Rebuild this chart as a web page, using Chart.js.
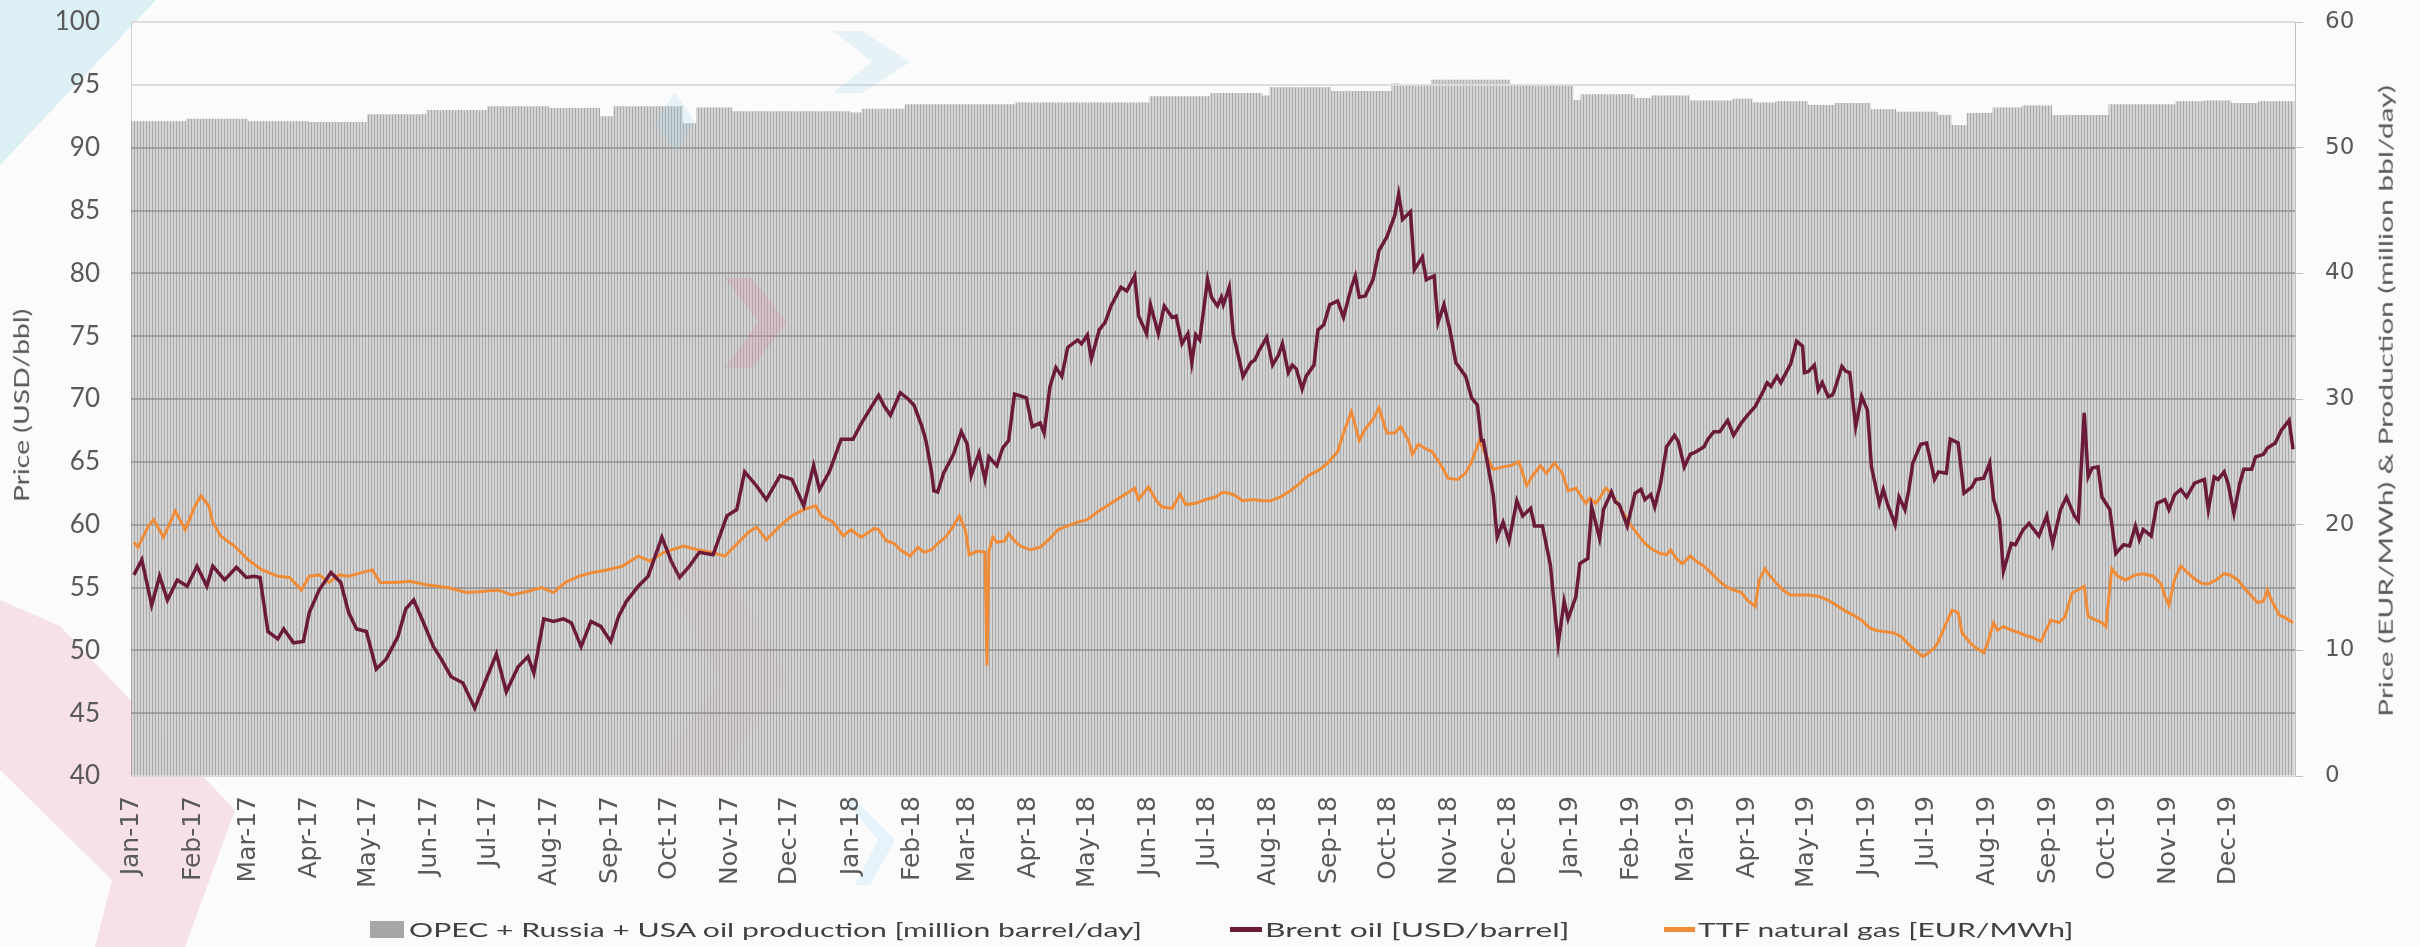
<!DOCTYPE html>
<html>
<head>
<meta charset="utf-8">
<script src="https://cdn.jsdelivr.net/npm/chart.js@4.4.1/dist/chart.umd.min.js"></script>
<style>
html,body{margin:0;padding:0;background:#fbfbfb;}
#wrap{position:relative;width:2420px;height:947px;overflow:hidden;}
canvas{display:block;}
.vt{position:absolute;white-space:nowrap;font-family:Lato,sans-serif;color:#595959;line-height:1;}
.lg{position:absolute;white-space:nowrap;font-family:Lato,sans-serif;font-size:19px;color:#404040;line-height:1;transform-origin:0 50%;}
.mk{position:absolute;}
</style>
</head>
<body>
<div id="wrap">
<canvas id="c" width="2420" height="947"></canvas>
<div class="vt" id="ltitle" data-cx="20" data-cy="405" data-len="193" style="font-size:21px">Price (USD/bbl)</div>
<div class="vt" id="rtitle" data-cx="2384" data-cy="401" data-len="631" style="font-size:20px">Price (EUR/MWh) &amp; Production (million bbl/day)</div>
<div id="legend"></div>
</div>
<script>
// ---------- categories / tick labels ----------
const monthLabels = ['Jan-17','Feb-17','Mar-17','Apr-17','May-17','Jun-17','Jul-17','Aug-17','Sep-17','Oct-17','Nov-17','Dec-17',
  'Jan-18','Feb-18','Mar-18','Apr-18','May-18','Jun-18','Jul-18','Aug-18','Sep-18','Oct-18','Nov-18','Dec-18',
  'Jan-19','Feb-19','Mar-19','Apr-19','May-19','Jun-19','Jul-19','Aug-19','Sep-19','Oct-19','Nov-19','Dec-19'];
const seriesNames = ['OPEC + Russia + USA oil production [million barrel/day]', 'Brent oil [USD/barrel]', 'TTF natural gas [EUR/MWh]'];

// ---------- Brent oil [USD/barrel] : day (since 1 Jan 2017), value ----------
const brentDay = [1,5,10,14,18,23,28,33,38,41,47,53,58,62,65,69,74,77,82,87,90,95,101,106,110,114,119,124,129,135,139,143,148,153,157,162,168,174,179,185,190,196,201,204,209,214,219,223,228,233,238,243,247,251,257,262,269,274,278,283,288,295,302,307,311,317,322,329,335,341,346,349,354,360,366,
370,375,379,382,385,390,394,397,401,403,406,407,409,412,417,421,424,426,430,433,435,439,442,445,448,454,457,461,463,466,469,472,475,480,482,485,487,491,494,497,502,505,509,511,515,517,521,524,528,530,533,536,538,540,542,546,548,551,553,554,557,559,564,568,570,572,576,579,582,584,587,589,591,594,596,600,602,605,608,612,615,619,621,623,626,630,633,637,641,643,645,649,651,655,657,661,663,666,669,672,677,680,683,685,686,689,691,693,696,699,703,706,710,712,716,720,722,724,727,729,
733,735,739,741,745,747,751,753,755,759,763,766,768,771,773,776,779,783,785,788,791,794,798,800,803,806,810,813,817,820,824,828,830,832,835,837,839,842,845,848,849,851,854,856,858,861,863,864,868,870,872,875,878,881,883,887,889,891,895,897,900,902,904,908,911,915,917,921,923,927,930,934,936,940,943,945,948,950,954,956,960,963,968,972,975,979,982,986,988,991,993,995,998,1000,1004,1007,1011,1014,1017,1019,1021,1025,1028,1032,1034,1037,1040,1043,1047,1052,1054,1057,1059,1062,1064,1067,1070,1072,1076,1078,1082,1084,1088,1091,1095,1097];
const brentPrice = [56.0,57.2,53.6,55.9,54.0,55.6,55.1,56.7,55.1,56.7,55.6,56.6,55.8,55.9,55.8,51.5,50.9,51.7,50.6,50.7,53.0,54.8,56.2,55.4,53.0,51.7,51.5,48.5,49.3,51.1,53.3,54.0,52.2,50.3,49.3,47.9,47.4,45.4,47.4,49.7,46.7,48.7,49.5,48.2,52.5,52.3,52.5,52.2,50.3,52.3,51.9,50.7,52.7,53.9,55.1,55.9,59.0,57.0,55.8,56.7,57.8,57.6,60.7,61.2,64.2,63.1,62.0,63.9,63.6,61.5,64.7,62.8,64.2,66.8,66.8,
68.0,69.3,70.3,69.4,68.7,70.5,70.0,69.5,67.8,66.7,64.1,62.7,62.6,64.1,65.6,67.4,66.4,63.9,65.7,63.6,65.4,64.7,66.1,66.7,70.4,70.1,67.8,68.1,67.3,71.0,72.5,71.8,74.1,74.7,74.4,75.1,73.2,75.5,76.1,77.4,78.9,78.6,79.8,76.6,75.2,77.5,75.2,77.4,76.5,76.6,74.4,75.2,72.9,75.1,74.7,79.5,78.1,77.4,78.1,77.5,78.9,75.2,71.8,72.9,73.1,73.8,74.9,72.7,73.5,74.4,72.1,72.7,72.4,70.8,71.8,72.7,75.5,75.9,77.5,77.8,76.5,78.9,79.8,78.1,78.2,79.5,81.8,82.9,84.6,86.3,84.3,84.9,80.3,81.3,79.5,79.8,76.1,77.5,75.5,72.9,71.8,70.1,69.5,66.7,66.7,64.1,62.4,59.0,60.2,58.7,61.9,60.7,61.3,59.9,59.9,56.8,53.6,50.5,53.9,52.5,
54.3,56.9,57.3,61.4,58.9,61.2,62.6,61.8,61.6,59.9,62.5,62.8,62.0,62.4,61.4,63.3,66.2,67.1,66.6,64.6,65.6,65.8,66.2,66.8,67.4,67.4,68.3,67.1,68.1,68.7,69.4,70.6,71.3,71.0,71.8,71.3,71.9,72.8,74.6,74.2,72.1,72.2,72.7,70.7,71.3,70.2,70.3,70.6,72.6,72.2,72.1,67.8,70.2,69.1,64.6,61.7,62.8,61.7,60.0,62.2,61.2,62.8,64.9,66.4,66.5,63.6,64.2,64.1,66.8,66.5,62.5,63.0,63.6,63.7,64.9,62.0,60.4,56.3,58.5,58.4,59.6,60.1,59.1,60.7,58.5,61.2,62.2,60.7,60.3,68.9,63.8,64.5,64.6,62.2,61.2,57.7,58.4,58.3,59.9,58.8,59.6,59.1,61.7,62.0,61.2,62.4,62.8,62.2,63.3,63.6,61.2,63.8,63.6,64.2,63.3,60.9,63.3,64.4,64.4,65.4,65.6,66.1,66.5,67.5,68.3,66.0];

// ---------- TTF natural gas [EUR/MWh] ----------
const ttfDay = [1,3,8,11,16,22,27,32,35,39,41,45,52,59,66,74,80,86,90,95,100,105,110,117,122,126,134,141,150,160,170,179,186,193,201,208,214,220,227,234,241,249,257,263,270,280,287,294,301,306,313,317,322,329,335,341,347,350,356,361,
365,370,373,377,379,383,387,390,395,399,402,406,409,413,417,420,423,425,429,433,434,435,437,439,443,445,448,451,456,461,466,470,475,480,485,490,494,499,504,509,511,516,520,523,528,532,535,540,545,550,554,559,564,569,574,578,583,588,593,597,602,607,612,615,619,623,626,630,633,637,641,644,648,650,653,656,660,665,668,673,677,680,684,687,691,696,700,704,708,711,715,718,722,726,729,
733,735,738,740,743,745,748,751,754,758,761,765,768,772,776,779,781,784,787,791,794,798,802,805,809,813,817,820,824,826,829,831,835,838,842,846,851,856,861,865,870,875,878,882,885,889,894,898,903,906,909,912,915,917,921,924,927,929,933,936,940,942,945,947,950,954,958,961,965,969,974,978,981,985,988,991,993,997,1000,1002,1005,1008,1012,1017,1021,1026,1030,1032,1034,1037,1040,1044,1047,1051,1054,1058,1062,1065,1069,1072,1076,1079,1082,1084,1086,1090,1093,1097];
const ttfPrice = [18.6,18.2,19.8,20.4,19.0,21.1,19.6,21.5,22.3,21.5,20.2,19.1,18.3,17.2,16.4,15.9,15.8,14.8,15.9,16.0,15.4,16.0,15.9,16.2,16.4,15.4,15.4,15.5,15.2,15.0,14.6,14.7,14.8,14.4,14.7,15.0,14.6,15.4,15.9,16.2,16.4,16.7,17.5,17.1,17.8,18.3,18.0,17.8,17.5,18.3,19.4,19.8,18.8,19.9,20.7,21.2,21.5,20.7,20.2,19.1,
19.6,19.0,19.3,19.7,19.6,18.7,18.5,18.0,17.5,18.2,17.8,18.0,18.5,19.0,19.9,20.7,19.6,17.6,17.9,17.8,8.8,17.9,19.0,18.6,18.7,19.3,18.7,18.3,18.0,18.2,18.9,19.6,19.9,20.2,20.4,21.0,21.4,21.9,22.4,22.9,22.0,23.0,21.9,21.4,21.3,22.4,21.6,21.7,22.0,22.2,22.6,22.4,21.9,22.0,21.9,21.9,22.2,22.7,23.3,23.9,24.3,24.9,25.8,27.3,29.0,26.7,27.6,28.4,29.3,27.3,27.3,27.8,26.7,25.6,26.4,26.1,25.8,24.6,23.7,23.6,24.1,25.0,26.7,25.6,24.4,24.6,24.7,25.0,23.1,23.9,24.7,24.1,24.9,24.1,22.7,
22.9,22.4,21.7,22.1,21.7,22.1,22.9,22.5,21.7,20.7,19.9,19.1,18.5,18.0,17.7,17.6,18.0,17.3,16.9,17.5,17.1,16.7,16.1,15.6,15.1,14.8,14.6,14.0,13.5,15.6,16.5,16.0,15.3,14.8,14.4,14.4,14.4,14.3,14.0,13.6,13.1,12.7,12.4,11.8,11.6,11.5,11.4,11.1,10.3,9.9,9.5,9.8,10.2,10.7,12.2,13.2,13.0,11.4,10.6,10.2,9.8,10.6,12.2,11.6,11.9,11.6,11.4,11.2,11.0,10.7,12.4,12.2,12.6,14.6,14.8,15.1,12.7,12.4,12.2,11.9,16.5,15.9,15.6,16.0,16.1,15.9,15.3,14.3,13.6,15.7,16.7,16.1,15.7,15.3,15.3,15.6,16.1,16.0,15.6,15.0,14.3,13.8,13.9,14.8,14.0,12.8,12.6,12.2];

// ---------- OPEC + Russia + USA oil production [million barrel/day] : level from start day ----------
const prodStartDay = [0,28,59,90,120,150,181,212,238,245,280,287,305,365,371,393,449,517,548,574,578,609,640,644,660,700,732,736,763,772,791,813,823,835,851,865,883,896,917,924,932,945,960,975,1004,1038,1052,1066,1080];
const prodLevel = [52.1,52.3,52.1,52.05,52.65,53.0,53.3,53.15,52.5,53.3,51.95,53.2,52.9,52.8,53.1,53.45,53.6,54.1,54.35,54.15,54.8,54.5,55.1,54.95,55.4,54.9,53.8,54.25,53.95,54.15,53.75,53.9,53.6,53.7,53.4,53.55,53.05,52.85,52.6,51.8,52.75,53.2,53.35,52.6,53.45,53.7,53.75,53.55,53.7];

// ---------- derived structures ----------
const monthTickDays = monthLabels.map((_, i) => (Date.UTC(2017, i, 1) - Date.UTC(2017, 0, 1)) / 86400000);
const prodBars = [];
for (let d = 0; d <= 1097; d++) {
  let k = 0;
  while (k + 1 < prodStartDay.length && prodStartDay[k + 1] <= d) k++;
  prodBars.push({x: d, y: prodLevel[k]});
}
const brentPts = brentDay.map((d, i) => ({x: d, y: brentPrice[i]}));
const ttfPts = ttfDay.map((d, i) => ({x: d, y: ttfPrice[i]}));

const canvas = document.getElementById('c');
const ctx0 = canvas.getContext('2d');
const tile = document.createElement('canvas');
tile.width = 3; tile.height = 1;
const tg = tile.getContext('2d');
tg.fillStyle = '#d4d4d4'; tg.fillRect(0, 0, 2, 1);
tg.fillStyle = '#a8a8a8'; tg.fillRect(2, 0, 1, 1);
const stripePattern = ctx0.createPattern(tile, 'repeat');

const BRENT = '#6b1a3a', TTF = '#f08c38', PROD_KEY = '#a6a6a6';

const gridOverBars = {
  id: 'gridOverBars',
  afterDatasetDraw(chart, args) {
    if (args.index !== 0) return;
    const {ctx, chartArea: a, scales: {y}} = chart;
    ctx.save();
    y.ticks.forEach(t => {
      if (t.value <= 40) return;
      const py = Math.round(y.getPixelForValue(t.value));
      ctx.strokeStyle = t.value >= 95 ? '#dcdcdc' : '#909090';
      ctx.lineWidth = t.value >= 95 ? 2 : 1.5;
      ctx.beginPath(); ctx.moveTo(a.left, py); ctx.lineTo(a.right, py); ctx.stroke();
    });
    ctx.restore();
  }
};

const watermark = {
  id: 'watermark',
  beforeDraw(chart) {
    const c = chart.ctx;
    c.save();
    c.fillStyle = '#dceff4';
    c.beginPath(); c.moveTo(0, 0); c.lineTo(156, 0); c.lineTo(0, 165); c.closePath(); c.fill();
    c.fillStyle = '#f6e1e6';
    c.beginPath(); c.moveTo(0, 600); c.lineTo(60, 626); c.lineTo(235, 810); c.lineTo(185, 947); c.lineTo(95, 947); c.lineTo(112, 880); c.lineTo(0, 770); c.closePath(); c.fill();
    c.fillStyle = '#e6f3fb';
    c.beginPath(); c.moveTo(855, 800); c.lineTo(895, 840); c.lineTo(870, 885); c.lineTo(855, 885); c.lineTo(878, 840); c.lineTo(845, 800); c.closePath(); c.fill();
    c.restore();
  },
  afterDraw(chart) {
    const c = chart.ctx;
    c.save();
    c.fillStyle = '#e08aa0';
    c.globalAlpha = 0.06;
    c.beginPath(); c.moveTo(655, 560); c.lineTo(720, 560); c.lineTo(790, 680); c.lineTo(720, 776); c.lineTo(655, 776); c.lineTo(720, 680); c.closePath(); c.fill();
    c.globalAlpha = 0.22;
    c.beginPath(); c.moveTo(725, 278); c.lineTo(752, 278); c.lineTo(787, 322); c.lineTo(752, 368); c.lineTo(725, 368); c.lineTo(758, 322); c.closePath(); c.fill();
    c.fillStyle = '#9fd3ea';
    c.globalAlpha = 0.22;
    c.beginPath(); c.moveTo(833, 31); c.lineTo(862, 31); c.lineTo(910, 62); c.lineTo(862, 93); c.lineTo(833, 93); c.lineTo(872, 62); c.closePath(); c.fill();
    c.beginPath(); c.moveTo(675, 92); c.lineTo(695, 122); c.lineTo(675, 152); c.lineTo(655, 122); c.closePath(); c.fill();
    c.restore();
  }
};

Chart.defaults.font.family = 'Lato';
Chart.defaults.color = '#595959';

new Chart(canvas, {
  type: 'bar',
  data: {
    datasets: [
      {type: 'bar', label: seriesNames[0], data: prodBars, yAxisID: 'y1',
       backgroundColor: stripePattern, borderWidth: 0, barPercentage: 1.3, categoryPercentage: 1, grouped: false, order: 3},
      {type: 'line', label: seriesNames[1], data: brentPts, yAxisID: 'y', borderColor: BRENT, backgroundColor: BRENT,
       borderWidth: 3.5, pointRadius: 0, tension: 0, order: 1},
      {type: 'line', label: seriesNames[2], data: ttfPts, yAxisID: 'y1', borderColor: TTF, backgroundColor: TTF,
       borderWidth: 3, pointRadius: 0, tension: 0, order: 2}
    ]
  },
  options: {
    responsive: false,
    animation: false,
    devicePixelRatio: 1,
    events: [],
    layout: {padding: {left: 0, right: 0, top: 22, bottom: 0}},
    scales: {
      x: {
        type: 'linear', min: -0.5, max: 1098, offset: false,
        grid: {display: false, drawTicks: false},
        border: {display: true, color: '#d9d9d9', width: 1},
        afterBuildTicks: s => { s.ticks = monthTickDays.map(v => ({value: v})); },
        afterFit: s => { s.height = 171; },
        ticks: {autoSkip: false, minRotation: 90, maxRotation: 90, padding: 20,
          font: {family: 'DejaVu Sans', size: 25}, color: '#595959',
          callback: (v, i) => monthLabels[i]}
      },
      y: {
        type: 'linear', position: 'left', min: 40, max: 100,
        ticks: {stepSize: 5, padding: 31, font: {family: 'Lato', size: 26}, color: '#595959'},
        grid: {display: false, drawTicks: false},
        border: {display: true, color: '#cfcfcf', width: 1},
        afterFit: s => { s.width = 131; s.paddingTop = 0; s.paddingBottom = 0; }
      },
      y1: {
        type: 'linear', position: 'right', min: 0, max: 60,
        ticks: {stepSize: 10, padding: 22, font: {family: 'DejaVu Sans', size: 23}, color: '#595959'},
        grid: {display: true, drawOnChartArea: false, drawTicks: true, tickLength: 8, color: '#bfbfbf'},
        border: {display: true, color: '#bfbfbf', width: 1},
        afterFit: s => { s.width = 125; s.paddingTop = 0; s.paddingBottom = 0; }
      }
    },
    plugins: {
      tooltip: {enabled: false},
      legend: {display: false}
    }
  },
  plugins: [watermark, gridOverBars]
});

// ---------- axis titles (rotated, stretched to the reference's length) ----------
document.querySelectorAll('.vt').forEach(el => {
  const w = el.offsetWidth, h = el.offsetHeight;
  const k = (+el.dataset.len) / w;
  el.style.left = (+el.dataset.cx - w / 2) + 'px';
  el.style.top = (+el.dataset.cy - h / 2) + 'px';
  el.style.transform = 'rotate(-90deg) scaleX(' + k + ')';
});

// ---------- legend (HTML) ----------
const legendItems = [
  {name: seriesNames[0], color: PROD_KEY, mk: [370, 921, 34, 17], text: [409, 733]},
  {name: seriesNames[1], color: BRENT, mk: [1230, 927, 32, 5], text: [1265, 304]},
  {name: seriesNames[2], color: TTF, mk: [1664, 927, 31, 5], text: [1698, 375]}
];
const lg = document.getElementById('legend');
legendItems.forEach(it => {
  const m = document.createElement('div');
  m.className = 'mk';
  m.style.cssText = `left:${it.mk[0]}px;top:${it.mk[1]}px;width:${it.mk[2]}px;height:${it.mk[3]}px;background:${it.color};`;
  lg.appendChild(m);
  const t = document.createElement('div');
  t.className = 'lg';
  t.textContent = it.name;
  lg.appendChild(t);
  const w = t.offsetWidth, h = t.offsetHeight;
  t.style.left = it.text[0] + 'px';
  t.style.top = (929 - h / 2) + 'px';
  t.style.transform = 'scaleX(' + (it.text[1] / w) + ')';
});
</script>
</body>
</html>
